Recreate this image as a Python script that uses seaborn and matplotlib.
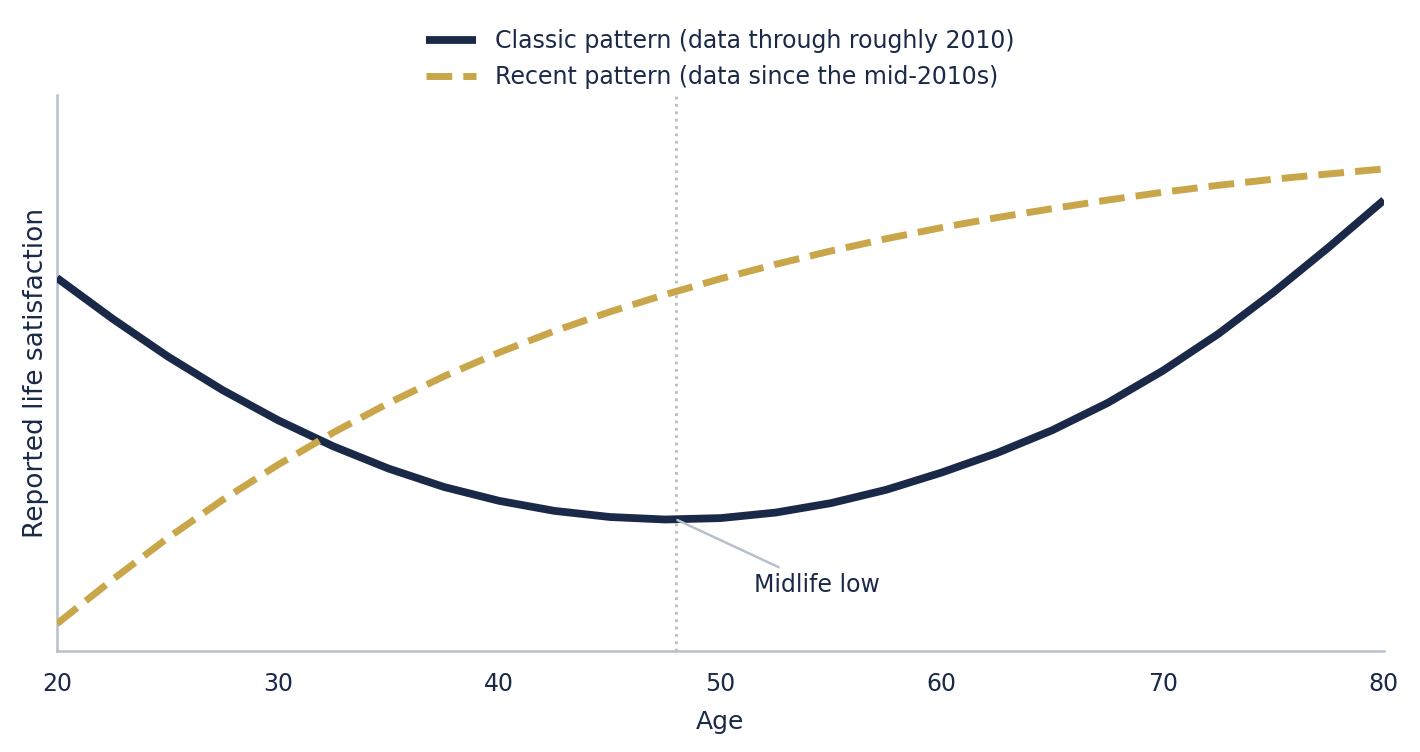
import numpy as np
import pandas as pd
import matplotlib
matplotlib.use("Agg")
import matplotlib.pyplot as plt
import seaborn as sns

# valeurs (indice arbitraire, 0-100)
ages = [20, 22.5, 25, 27.5, 30, 32.5, 35, 37.5, 40, 42.5, 45, 47.5, 50,
        52.5, 55, 57.5, 60, 62.5, 65, 67.5, 70, 72.5, 75, 77.5, 80]
classic = [67.1, 59.8, 53.0, 46.9, 41.5, 36.8, 32.8, 29.5, 27.0, 25.2, 24.1, 23.65, 23.9,
           24.9, 26.6, 29.0, 32.1, 35.6, 39.7, 44.6, 50.4, 57.0, 64.5, 72.6, 81.1]
recent = [4.9, 12.8, 20.3, 27.2, 33.5, 39.3, 44.6, 49.4, 53.7, 57.55, 61.0, 64.1, 66.95,
          69.55, 71.95, 74.15, 76.15, 77.95, 79.55, 81.1, 82.5, 83.75, 84.85, 85.8, 86.7]

label_classic = "Classic pattern (data through roughly 2010)"
label_recent = "Recent pattern (data since the mid-2010s)"
midlife_age = 48

navy = "#1b2948"
gold = "#c9a64a"
spine = "#b8c0cc"

df = pd.DataFrame({"Age": ages, "classic": classic, "recent": recent})

sns.set_theme(style="white")
plt.rcParams["font.family"] = ["DejaVu Sans"]

fig, ax = plt.subplots(figsize=(14.2, 7.52), dpi=100)
fig.subplots_adjust(left=0.0401, right=0.9746, top=0.8737, bottom=0.1343)

ax.axvline(midlife_age, color="#bdbdbd", linestyle=":", linewidth=2, zorder=1)

sns.lineplot(data=df, x="Age", y="classic", ax=ax, color=navy, linewidth=5.6,
             label=label_classic, zorder=3, solid_joinstyle="round",
             solid_capstyle="butt")
sns.lineplot(data=df, x="Age", y="recent", ax=ax, color=gold, linewidth=5.0,
             linestyle="--", label=label_recent, zorder=3,
             dash_joinstyle="round")

low = min(classic)
ax.annotate("Midlife low", xy=(midlife_age, low), xytext=(51.5, 11.9),
            fontsize=17, color=navy, ha="left", va="center",
            arrowprops=dict(arrowstyle="-", color=spine, linewidth=1.8,
                            shrinkA=4, shrinkB=1))

ax.set_xlim(20, 80)
ax.set_ylim(0, 100)
ax.set_xticks([20, 30, 40, 50, 60, 70, 80])
ax.set_yticks([])
ax.set_xlabel("Age", fontsize=18, color=navy, labelpad=10)
ax.set_ylabel("Reported life satisfaction", fontsize=19, color=navy, labelpad=6)
ax.tick_params(axis="x", colors=navy, labelsize=17, length=6, width=1.5, pad=9)

sns.despine(ax=ax)
for side in ["left", "bottom"]:
    ax.spines[side].set_color(spine)
    ax.spines[side].set_linewidth(1.8)

ax.legend(loc="lower center", bbox_to_anchor=(0.5, 1.0), frameon=False,
          fontsize=17, labelcolor=navy, handlelength=2.1, labelspacing=0.52,
          borderaxespad=-0.15)

fig.savefig("out.png", dpi=100)
